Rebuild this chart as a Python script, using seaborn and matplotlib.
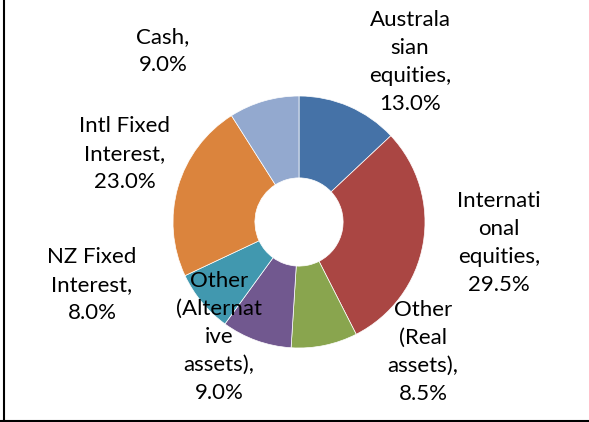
import matplotlib
matplotlib.use("Agg")
import matplotlib.pyplot as plt
import seaborn as sns
from matplotlib.lines import Line2D

# data
categories = ["Australasian equities", "International equities", "Other (Real assets)",
              "Other (Alternative assets)", "NZ Fixed Interest", "Intl Fixed Interest", "Cash"]
shares = [13.0, 29.5, 8.5, 9.0, 8.0, 23.0, 9.0]
label_texts = ["Australa\nsian\nequities,", "Internati\nonal\nequities,", "Other\n(Real\nassets),",
               "Other\n(Alternat\nive\nassets),", "NZ Fixed\nInterest,", "Intl Fixed\nInterest,", "Cash,"]
colors = ["#4572A7", "#AA4643", "#89A54E", "#71588F", "#4198AF", "#DB843D", "#93A9CF"]

sns.set_style("white")
plt.rcParams["font.family"] = ["Lato", "DejaVu Sans"]

W, H = 589, 422
cx, cy, R = 299, 222, 126   # pie centre / radius in pixels

fig = plt.figure(figsize=(W / 100, H / 100), dpi=100)
ax = fig.add_axes([0, 0, 1, 1])

ax.pie(shares, colors=colors, startangle=90, counterclock=False, radius=1,
       wedgeprops=dict(width=0.65, edgecolor="white", linewidth=0.5))

# pie() resets the limits, so set them afterwards
ax.set_xlim(-cx / R, (W - cx) / R)
ax.set_ylim(-(H - cy) / R, cy / R)
ax.set_aspect("equal")
ax.axis("off")

# label centres in pixels (layout only)
label_pos = [(410, 62), (499, 243), (423, 352), (219, 337), (92, 285), (125, 154), (163, 51)]
for txt, v, (px, py) in zip(label_texts, shares, label_pos):
    ax.text((px - cx) / R, (cy - py) / R, f"{txt}\n{v:.1f}%", ha="center", va="center",
            fontsize=16, color="black", linespacing=1.5)

# chart frame (left and bottom edges visible)
fig.add_artist(Line2D([4 / W, 4 / W], [0, 1], color="black", lw=1.5, transform=fig.transFigure))
fig.add_artist(Line2D([0, 1], [1.2 / H, 1.2 / H], color="black", lw=1.5, transform=fig.transFigure))

fig.savefig("out.png", dpi=100)
